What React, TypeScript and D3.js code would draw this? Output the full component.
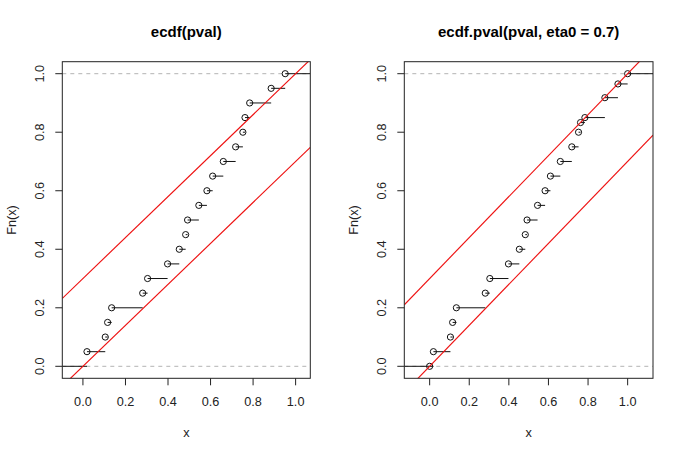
import * as d3 from 'd3';

// p-values (knots of the step functions)
const pval = [0.019, 0.105, 0.116, 0.135, 0.281, 0.304, 0.398, 0.453, 0.483, 0.492,
  0.545, 0.583, 0.61, 0.66, 0.718, 0.752, 0.762, 0.784, 0.885, 0.951];
const fnLeft = pval.map((_, i) => (i + 1) / 20);

const knotsRight = [0, ...pval, 1.0];
const fnRight = [0, 0.05, 0.10, 0.15, 0.20, 0.25, 0.30, 0.35, 0.40, 0.45, 0.50,
  0.55, 0.60, 0.65, 0.70, 0.75, 0.80, 0.833, 0.85, 0.918, 0.965, 1.0];

const eta0 = 0.7;
const ticks = [0, 0.2, 0.4, 0.6, 0.8, 1.0];

interface PanelProps {
  id: string;
  title: string;
  left: number;
  right: number;
  xDomain: [number, number];
  knots: number[];
  fn: number[];
}

const TOP = 61.7;
const BOTTOM = 378.3;
const FONT = 'Liberation Sans, Arial, Helvetica, sans-serif';

function Panel({ id, title, left, right, xDomain, knots, fn }: PanelProps) {
  const x = d3.scaleLinear().domain(xDomain).range([left, right]);
  const y = d3.scaleLinear().domain([-0.041, 1.041]).range([BOTTOM, TOP]);
  const [x0, x1] = xDomain;
  const cx = (left + right) / 2;

  // step segments: from left edge at 0, then knot i -> knot i+1, last to right edge
  const segs: { a: number; b: number; v: number }[] = [];
  segs.push({ a: x0, b: knots[0], v: 0 });
  knots.forEach((k, i) => {
    segs.push({ a: k, b: i < knots.length - 1 ? knots[i + 1] : x1, v: fn[i] });
  });

  // bounds eta0*x and (1 - eta0) + eta0*x
  const bands = [0, 1 - eta0];
  const bandLine = d3.line<number>().x(v => x(v));

  return (
    <g>
      <defs>
        <clipPath id={id}>
          <rect x={left} y={TOP} width={right - left} height={BOTTOM - TOP} />
        </clipPath>
      </defs>
      <text x={cx} y={31.7} textAnchor="middle" dominantBaseline="central"
        fontFamily={FONT} fontWeight="bold" fontSize={15}>{title}</text>

      <g clipPath={`url(#${id})`}>
        {[0, 1].map(h => (
          <line key={`h${h}`} x1={left} x2={right} y1={y(h)} y2={y(h)}
            stroke="#b3b3b3" strokeDasharray="4,4" strokeWidth={1} />
        ))}
        {segs.map((s, i) => (
          <line key={`s${i}`} x1={x(s.a)} x2={x(s.b)} y1={y(s.v)} y2={y(s.v)}
            stroke="#111" strokeWidth={1} />
        ))}
        {knots.map((k, i) => (
          <circle key={`c${i}`} cx={x(k)} cy={y(fn[i])} r={3.1}
            fill="none" stroke="#111" strokeWidth={1} />
        ))}
        {bands.map((c, i) => (
          <path key={`b${i}`} d={bandLine.y(v => y(c + eta0 * v))([x0, x1]) ?? ''}
            fill="none" stroke="#ee1111" strokeWidth={1.15} />
        ))}
      </g>

      <rect x={left} y={TOP} width={right - left} height={BOTTOM - TOP}
        fill="none" stroke="#222" strokeWidth={1} />

      {ticks.map(t => (
        <g key={`x${t}`}>
          <line x1={x(t)} x2={x(t)} y1={BOTTOM} y2={BOTTOM + 7} stroke="#222" />
          <text x={x(t)} y={401.7} textAnchor="middle" dominantBaseline="central"
            fontFamily={FONT} fontSize={12.7} fill="#222">{t.toFixed(1)}</text>
        </g>
      ))}
      {ticks.map(t => (
        <g key={`y${t}`}>
          <line x1={left - 7} x2={left} y1={y(t)} y2={y(t)} stroke="#222" />
          <text transform={`translate(${left - 22.3},${y(t)}) rotate(-90)`}
            textAnchor="middle" dominantBaseline="central"
            fontFamily={FONT} fontSize={12.7} fill="#222">{t.toFixed(1)}</text>
        </g>
      ))}

      <text x={cx} y={432.7} textAnchor="middle" dominantBaseline="central"
        fontFamily={FONT} fontSize={12.7} fill="#222">x</text>
      <text transform={`translate(${left - 50.6},${(TOP + BOTTOM) / 2}) rotate(-90)`}
        textAnchor="middle" dominantBaseline="central"
        fontFamily={FONT} fontSize={12.7} fill="#222">Fn(x)</text>
    </g>
  );
}

export default function App() {
  return (
    <svg width={685} height={456}
      style={{ position: 'absolute', left: 0, top: 0, background: '#fff' }}>
      <rect width={685} height={456} fill="#fff" />
      <Panel id="clipL" title="ecdf(pval)" left={62.3} right={310.3}
        xDomain={[-0.097, 1.069]} knots={pval} fn={fnLeft} />
      <Panel id="clipR" title="ecdf.pval(pval, eta0 = 0.7)" left={404.3} right={653}
        xDomain={[-0.128, 1.128]} knots={knotsRight} fn={fnRight} />
    </svg>
  );
}
